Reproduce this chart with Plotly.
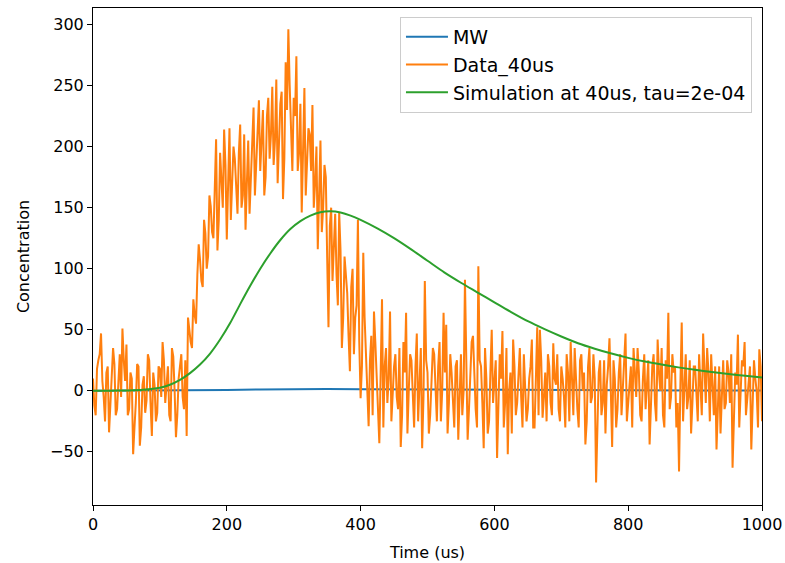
import numpy as np
import plotly.graph_objects as go

# Measured trace at 40 us: samples on the 4 us grid (0, 4, ..., 1000)
data_time_even = list(range(0, 1001, 4))
data_40us_even = [
    10, -20, 25, 47, -5, 15, -34, 5, 22, -15, 30, 51, 8, -20, 15, -52, -10, 20, -30, 12, -8, 25, -37, 5, -18,
    18, 40, -10, 20, -25, 28, -38, 10, 30, -15, -37, 48, 35, 62, 95, 107, 85, 129, 110, 151, 125, 206, 140, 175, 214,
    124, 215, 165, 190, 145, 218, 160, 132, 205, 175, 232, 185, 238, 200, 160, 225, 190, 249, 205, 170, 235, 157, 269, 296, 210,
    240, 274, 195, 146, 248, 185, 210, 234, 170, 116, 205, 150, 175, 52, 150, 120, 95, 146, 35, 110, 80, 16, 100, 60, 140,
    -6, 113, 30, -29, 45, 65, 10, -43, 75, 20, -10, 65, 5, 30, -15, -46, 40, 64, 0, 25, -30, 47, 10, -47, 90,
    15, -20, 35, -5, 20, -25, 64, 54, -10, 15, -30, 25, 5, -20, 91, -40, 10, 45, -15, 102, 20, -47, 10, -25, 50,
    5, -55, 30, 49, -10, -52, 15, 42, -20, 20, -5, 30, -25, 10, 42, -30, 52, 50, -22, 15, 30, -10, 39, 5, -15,
    20, -5, 30, -25, 10, 35, -15, 25, 0, -44, 20, -10, 30, -75, 15, -20, 25, 5, 43, -46, 10, -15, 30, 0, 47,
    -10, 20, 35, -5, 15, -25, 30, 5, -44, 20, -10, 42, 0, -20, 25, 64, -5, 15, -30, -66, 56, 10, -15, 25, -10,
    20, -25, 10, 47, -10, 15, 30, -20, -48, 20, 5, -15, 25, -10, -63, 15, 46, -5, 20, -20, 10, -48, 25, 0, 34, -25,
]

# Samples between them (2, 6, ..., 998)
data_time_odd = list(range(2, 1000, 4))
data_40us_odd = [
    -12, 18, 30, 8, -25, 20, -8, 35, -20, 12, -5, 25, 38, -15, 10, -30, 22, -45, 5, -18, 30, -10, 15, -25, 20,
    -5, 25, 5, -20, 35, 0, -20, 20, -5, 25, 60, 40, 75, 55, 120, 90, 140, 100, 160, 130, 170, 115, 195, 150, 185,
    170, 140, 200, 170, 195, 150, 210, 170, 145, 215, 160, 205, 180, 230, 175, 240, 210, 185, 255, 200, 245, 190, 230, 250, 180,
    225, 180, 235, 200, 160, 215, 180, 150, 200, 165, 130, 185, 110, 135, 90, 145, 70, 115, 60, 95, 45, 85, 30, 70, 40,
    20, 60, -15, 25, -20, 40, -5, 15, -30, 35, 10, -25, 20, -5, 35, -20, 15, -35, 30, -10, 20, -25, 35, -5, 25,
    -35, 10, 30, -25, 40, 0, 15, -35, 30, -10, 20, -40, 30, 0, 20, -15, 40, 5, -30, 25, -10, 35, -35, 15, -10,
    25, -20, 10, -30, 35, 0, -35, 20, -10, 35, -30, 5, -15, 20, -30, 10, -20, 25, -5, -25, 20, -20, 10, 30, -25,
    10, -30, 15, 40, -20, 5, -30, 30, 15, -25, 35, -5, 10, -30, 25, -10, -35, 20, 0, 25, -30, 15, -20, 20, -25,
    5, -30, 15, 35, -20, 10, -15, 25, -5, 30, -25, 15, 35, -30, 10, -15, 30, 20, -10, 5, -25, 30, -5, -35, 20,
    -5, 30, -20, 10, 35, -25, 5, 20, -15, -35, 25, -10, 15, 30, -20, 5, -30, 25, 40, -5, 20, -15, 10, -30, 20,
]

# Merge both sample sets into one time-ordered trace
_pairs = sorted(zip(data_time_even + data_time_odd, data_40us_even + data_40us_odd))
data_time = [p[0] for p in _pairs]
data_40us = [p[1] for p in _pairs]

# Simulated concentration at 40 us, tau = 2e-04
sim_time = [0, 25, 50, 75, 100, 115, 130, 145, 160, 175, 190, 205, 220, 235, 250, 265, 280, 295,
            310, 325, 340, 355, 370, 385, 400, 425, 450, 475, 500, 525, 550, 575, 600, 625,
            650, 675, 700, 725, 750, 775, 800, 825, 850, 875, 900, 925, 950, 975, 1000]
sim_40us = [0, 0.1, 0.3, 0.8, 2.5, 5, 9, 14.5, 21.5, 30.5, 42, 55.5, 71, 86, 100, 112.5, 123.5, 132.5,
            139, 143.5, 146.3, 147, 146, 143.5, 140, 133, 125, 116, 106.5, 97, 88.5, 80.5, 72.5, 64.5,
            57, 50.5, 44.5, 39, 34.5, 30.5, 27, 24, 21.5, 19.2, 17.2, 15.4, 13.8, 12.3, 11]

# MW reference curve
mw_time = [0, 100, 140, 160, 200, 250, 300, 350, 400, 500, 600, 700, 800, 900, 1000]
mw_vals = [0, 0, 0.05, 0.2, 0.6, 1.1, 1.4, 1.4, 1.3, 1.0, 0.7, 0.5, 0.35, 0.25, 0.2]

x_ticks = [0, 200, 400, 600, 800, 1000]
y_ticks = [-50, 0, 50, 100, 150, 200, 250, 300]

font_family = "DejaVu Sans"
fs = 16

fig = go.Figure()
fig.add_trace(go.Scatter(x=mw_time, y=mw_vals, mode="lines", name="MW",
                         line=dict(color="#1f77b4", width=2)))
fig.add_trace(go.Scatter(x=data_time, y=data_40us, mode="lines", name="Data_40us",
                         line=dict(color="#ff7f0e", width=2)))
fig.add_trace(go.Scatter(x=sim_time, y=sim_40us, mode="lines", name="Simulation at 40us, tau=2e-04",
                         line=dict(color="#2ca02c", width=2, shape="spline", smoothing=0.8)))

axis_common = dict(showline=True, mirror=True, linecolor="black", linewidth=1,
                   ticks="outside", ticklen=5, tickcolor="black", tickwidth=1,
                   showgrid=False, zeroline=False, automargin=False,
                   tickfont=dict(family=font_family, size=fs, color="black"))

fig.update_layout(
    width=785, height=563,
    margin=dict(l=93, r=23, t=8, b=58),
    paper_bgcolor="white", plot_bgcolor="white",
    font=dict(family=font_family, size=fs, color="black"),
    xaxis=dict(range=[0, 1000], tickvals=x_ticks,
               title=dict(text="Time (us)", font=dict(size=fs), standoff=13), **axis_common),
    yaxis=dict(range=[-93.5, 313.5], tickvals=y_ticks,
               title=dict(text="Concentration", font=dict(size=fs), standoff=16), **axis_common),
    legend=dict(x=0.985, y=0.982, xanchor="right", yanchor="top",
                bgcolor="rgba(255,255,255,0.8)", bordercolor="#cccccc", borderwidth=1,
                itemwidth=42,
                font=dict(family=font_family, size=19, color="black")),
    showlegend=True,
)

fig.write_html("out.html")
